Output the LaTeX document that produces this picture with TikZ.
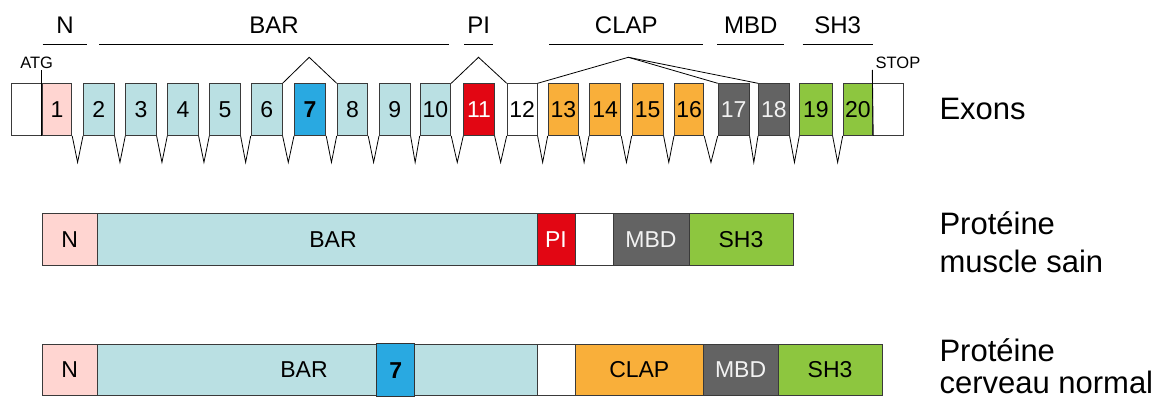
\documentclass[tikz,border=0pt]{standalone}
\usepackage{fontspec}
\setmainfont{Liberation Sans}
\usetikzlibrary{calc}
\definecolor{cN}{HTML}{FFD5D1}
\definecolor{cBAR}{HTML}{BAE0E3}
\definecolor{cSeven}{HTML}{29A9E1}
\definecolor{cPI}{HTML}{E20613}
\definecolor{cCLAP}{HTML}{F9AF3A}
\definecolor{cMBD}{HTML}{636363}
\definecolor{cSH}{HTML}{8DC63F}
\definecolor{cEdge}{HTML}{3A3A3A}
\begin{document}
\begin{tikzpicture}[x=1pt,y=-1pt,
  exon/.style={draw=cEdge, line width=0.9pt, inner sep=0pt, minimum height=51.7pt,
    anchor=north west, font=\fontsize{23}{23}\selectfont},
  dom/.style={draw=cEdge, line width=0.9pt, inner sep=0pt, minimum height=52pt,
    anchor=north west, font=\fontsize{23}{23}\selectfont},
  hdr/.style={anchor=base, font=\fontsize{24}{24}\selectfont},
  hline/.style={draw=black, line width=0.9pt},
  splice/.style={draw=black, line width=0.8pt},
  side/.style={anchor=base west, font=\fontsize{31}{31}\selectfont},
  small/.style={anchor=base, font=\fontsize{16.5}{16.5}\selectfont}]
\useasboundingbox (0,0) rectangle (1163,398);

% ---------- exons ----------
\node[exon, fill=white, minimum width=30.7pt] (w0) at (11,83.3) {};
\node[exon, fill=cN, minimum width=29.6pt] (e1) at (41.7,83.3) {1};
\node[exon, fill=cBAR, minimum width=30.7pt] (e2) at (83,83.3) {2};
\node[exon, fill=cBAR, minimum width=30.4pt] (e3) at (125.3,83.3) {3};
\node[exon, fill=cBAR, minimum width=30.4pt] (e4) at (167.3,83.3) {4};
\node[exon, fill=cBAR, minimum width=30.4pt] (e5) at (209.3,83.3) {5};
\node[exon, fill=cBAR, minimum width=31pt] (e6) at (250.7,83.3) {6};
\node[exon, fill=cSeven, minimum width=31.3pt, font=\fontsize{23}{23}\selectfont\bfseries] (e7) at (294,83.3) {7};
\node[exon, fill=cBAR, minimum width=30.6pt] (e8) at (336.7,83.3) {8};
\node[exon, fill=cBAR, minimum width=30.7pt] (e9) at (379,83.3) {9};
\node[exon, fill=cBAR, minimum width=30.6pt] (e10) at (419.7,83.3) {10};
\node[exon, fill=cPI, text=white, minimum width=30.4pt] (e11) at (463.3,83.3) {11};
\node[exon, fill=white, minimum width=30pt] (e12) at (506.7,83.3) {12};
\node[exon, fill=cCLAP, minimum width=30.6pt] (e13) at (547.7,83.3) {13};
\node[exon, fill=cCLAP, minimum width=31.3pt] (e14) at (589,83.3) {14};
\node[exon, fill=cCLAP, minimum width=31pt] (e15) at (631.7,83.3) {15};
\node[exon, fill=cCLAP, minimum width=29.3pt] (e16) at (674,83.3) {16};
\node[exon, fill=cMBD, text=white!95!black, minimum width=31pt] (e17) at (717.7,83.3) {17};
\node[exon, fill=cMBD, text=white!95!black, minimum width=30.7pt] (e18) at (758,83.3) {18};
\node[exon, fill=cSH, minimum width=32.4pt] (e19) at (799.3,83.3) {19};
\node[exon, fill=cSH, minimum width=29.6pt] (e20) at (842.7,83.3) {20};
\node[exon, fill=white, minimum width=31pt] (w21) at (872.3,83.3) {};

% ---------- introns ----------
\foreach \a [evaluate=\a as \b using int(\a+1)] in {1,...,19}
  \draw[line width=0.8pt] (e\a.south east) -- ($(e\a.south east)!.5!(e\b.south west)+(0,26.5)$) -- (e\b.south west);

% ---------- splicing ----------
\coordinate (p1) at (309.2,57.3);
\coordinate (p2) at (478.5,57.3);
\coordinate (p3) at (628.3,57.3);
\draw[splice] (e6.north east) -- (p1) -- (e8.north west);
\draw[splice] (e10.north east) -- (p2) -- (e12.north west);
\draw[splice] (e12.north east) -- (p3) -- (e17.north west);
\draw[splice] (p3) -- (e18.north west);

% ---------- ATG / STOP ----------
\node[small] (atg) at (36.7,68.3) {ATG};
\node[small] (stop) at (898,68.3) {STOP};
\coordinate (atgT) at (41.7,70);
\coordinate (stopT) at (872.3,70);
\draw[line width=0.9pt] (atgT) -- (e1.south west);
\draw[line width=0.9pt] (stopT) -- (e20.south east);

% ---------- domain headers ----------
\coordinate (nA) at (42.7,44.7);   \coordinate (nB) at (87.3,44.7);
\coordinate (bA) at (99.3,44.7);   \coordinate (bB) at (449,44.7);
\coordinate (pA) at (464.3,44.7);  \coordinate (pB) at (493.3,44.7);
\coordinate (cA) at (549.3,44.7);  \coordinate (cB) at (703.3,44.7);
\coordinate (mA) at (717.3,44.7);  \coordinate (mB) at (784.3,44.7);
\coordinate (sA) at (802.7,44.7);  \coordinate (sB) at (872.7,44.7);
\draw[hline] (nA) -- (nB);
\draw[hline] (bA) -- (bB);
\draw[hline] (pA) -- (pB);
\draw[hline] (cA) -- (cB);
\draw[hline] (mA) -- (mB);
\draw[hline] (sA) -- (sB);
\node[hdr] (hN) at (65,33.3) {N};
\node[hdr] (hBAR) at (274,33.3) {BAR};
\node[hdr] (hPI) at (478.8,33.3) {PI};
\node[hdr] (hCLAP) at (626.3,33.3) {CLAP};
\node[hdr] (hMBD) at (750.8,33.3) {MBD};
\node[hdr] (hSH) at (837.7,33.3) {SH3};

% ---------- protein muscle sain ----------
\node[dom, fill=cN, minimum width=55.3pt] (aN) at (41.7,213.3) {N};
\node[dom, fill=cBAR, minimum width=439.5pt] (aBAR) at (97,213.3) {};
\node[dom, fill=cPI, text=white, minimum width=38pt] (aPI) at (536.5,213.3) {PI};
\node[dom, fill=white, minimum width=38pt] (aW) at (574.5,213.3) {};
\node[dom, fill=cMBD, text=white!95!black, minimum width=76pt] (aMBD) at (612.5,213.3) {MBD};
\node[dom, fill=cSH, minimum width=104pt] (aSH) at (688.5,213.3) {SH3};
\node[font=\fontsize{23}{23}\selectfont] (aBARt) at (333,239.3) {BAR};

% ---------- protein cerveau normal ----------
\node[dom, fill=cN, minimum width=55.3pt, minimum height=51pt] (bN) at (41.7,344) {N};
\node[dom, fill=cBAR, minimum width=439.7pt, minimum height=51pt] (bBAR) at (97,344) {};
\node[dom, fill=cSeven, draw=black!80, line width=1.1pt, minimum width=37.7pt, minimum height=52.7pt,
  font=\fontsize{23}{23}\selectfont\bfseries] (b7) at (376.3,343.3) {7};
\node[dom, fill=white, minimum width=38.3pt, minimum height=51pt] (bW) at (536.7,344) {};
\node[dom, fill=cCLAP, minimum width=127.7pt, minimum height=51pt] (bCLAP) at (575,344) {CLAP};
\node[dom, fill=cMBD, text=white!95!black, minimum width=74.8pt, minimum height=51pt] (bMBD) at (702.7,344) {MBD};
\node[dom, fill=cSH, minimum width=104.2pt, minimum height=51pt] (bSH) at (777.5,344) {SH3};
\node[font=\fontsize{23}{23}\selectfont] (bBARt) at (304,369.5) {BAR};

% ---------- side labels ----------
\node[side] (lEx) at (936,120) {Exons};
\node[side] (lP1) at (936,235) {Protéine};
\node[side] (lM1) at (936,273) {muscle sain};
\node[side] (lP2) at (936,362) {Protéine};
\node[side] (lC2) at (936,393) {cerveau normal};
\end{tikzpicture}
\end{document}
